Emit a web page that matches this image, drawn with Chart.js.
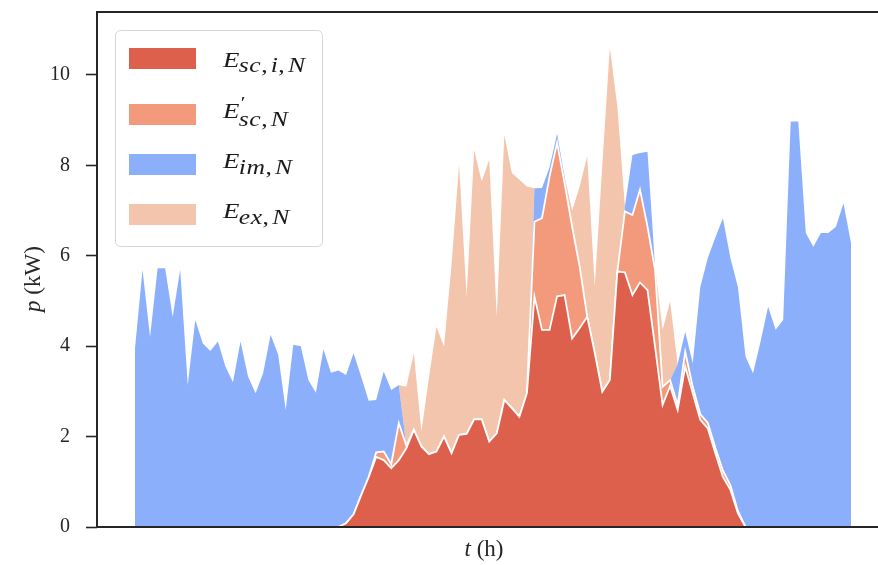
<!DOCTYPE html>
<html><head><meta charset="utf-8">
<script src="https://cdn.jsdelivr.net/npm/chart.js@4/dist/chart.umd.min.js"></script>
<style>html,body{margin:0;padding:0;background:#fff;overflow:hidden}</style>
</head><body>
<canvas id="c" width="878" height="565"></canvas>
<script>
// time steps (15-min intervals over a day)
const steps = Array.from({length: 96}, (_, i) => i);
// individual self-consumption E_sc,i,N (kW)
const selfConsIndiv = [0,0,0,0,0,0,0,0,0,0,0,0,0,0,0,0,0,0,0,0,0,0,0,0,0,0,0,0,
 0.08,0.28,0.70,1.10,1.55,1.48,1.30,1.48,1.74,2.15,1.78,1.61,1.67,2.00,1.63,2.04,2.06,2.38,2.38,1.89,2.07,2.81,2.63,2.44,2.96,
 5.10,4.36,4.36,5.10,5.13,4.17,4.40,4.65,3.85,2.99,3.25,5.65,5.63,5.13,5.41,5.24,3.99,2.70,3.12,2.59,3.55,2.96,2.37,2.18,1.63,1.11,0.82,0.30,
 0,0,0,0,0,0,0,0,0,0,0,0,0,0,0];
// collective self-consumption E'_sc,N (kW)
const selfConsColl = [0,0,0,0,0,0,0,0,0,0,0,0,0,0,0,0,0,0,0,0,0,0,0,0,0,0,0,0,0,0,0,0,
 0.10,0.19,0.09,0.82,0.06,0,0,0,0,0,0,0,0,0,0,0,0,0,0,0,0,
 1.65,2.47,3.39,3.40,2.47,2.47,1.36,0,0,0,0,0,1.35,1.77,2.05,1.40,1.70,0.40,0.13,0.11,0.33,0.14,0.13,0.12,0.12,0.14,0.10,0.05,
 0,0,0,0,0,0,0,0,0,0,0,0,0,0,0];
// import E_im,N (kW)
const importGrid = [3.95,5.69,4.20,5.72,5.72,4.65,5.69,3.14,4.58,4.06,3.89,4.10,3.55,3.20,4.10,3.33,2.96,3.40,4.25,3.81,2.59,4.03,4.00,3.25,2.97,3.93,3.41,3.46,
 3.28,3.56,2.63,1.69,1.16,1.77,1.64,0.84,0,0,0,0,0,0,0,0,0,0,0,0,0,0,0,0,0,
 0.74,0.67,0.20,0.20,0.15,0,0,0,0,0,0,0,0.11,1.33,0.81,1.66,0.07,0,0,0.90,0.44,0.52,2.80,3.65,4.65,5.58,5.03,4.95,
 3.77,3.40,4.10,4.87,4.36,4.58,8.97,8.97,6.50,6.20,6.50,6.50,6.64,7.16,6.28];
// export E_ex,N (kW)
const exportGrid = [0,0,0,0,0,0,0,0,0,0,0,0,0,0,0,0,0,0,0,0,0,0,0,0,0,0,0,0,0,0,0,0,0,0,0,0,
 1.30,1.69,0.33,1.69,2.76,1.99,4.17,5.97,3.04,5.96,5.26,6.23,2.58,5.86,5.20,5.24,4.57,
 0,0,0,0,0,0.36,1.77,3.55,1.47,5.01,7.35,3.65,0,0,0,0,0,1.26,1.74,
 0,0,0,0,0,0,0,0,0,0,0,0,0,0,0,0,0,0,0,0,0,0,0,0];
const yTicks = [0,2,4,6,8,10];
const legendLabels = [
  {main:'E', sup:'', sub:'sc,i,N', dy:5},
  {main:'E', sup:'\u2032', sub:'sc,N', dy:8},
  {main:'E', sup:'', sub:'im,N', dy:6},
  {main:'E', sup:'', sub:'ex,N', dy:6}
];
const colors = ['#dd604c','#f29a7b','#8caffc','#f3c5ac'];

const pts = arr => steps.map((x,i) => ({x, y: arr[i]}));

const SERIF = '"Liberation Serif", "DejaVu Serif", serif';
const INK = '#262626';

const decor = {
  id: 'decor',
  afterDatasetsDraw(chart) {
    const {ctx, chartArea: a} = chart;
    ctx.save();
    ctx.strokeStyle = INK; ctx.lineWidth = 2;
    ctx.beginPath();
    ctx.moveTo(a.left, a.bottom); ctx.lineTo(a.left, a.top); ctx.lineTo(a.right + 5, a.top);
    ctx.moveTo(a.left, a.bottom); ctx.lineTo(a.right + 5, a.bottom);
    ctx.stroke();
    ctx.fillStyle = INK; ctx.textBaseline = 'alphabetic';
    // x title
    const fs = 23;
    ctx.font = 'italic ' + fs + 'px ' + SERIF;
    const tW = ctx.measureText('t').width;
    ctx.font = fs + 'px ' + SERIF;
    const rW = ctx.measureText(' (h)').width;
    let x0 = 484 - (tW + rW) / 2;
    ctx.font = 'italic ' + fs + 'px ' + SERIF; ctx.fillText('t', x0, 556);
    ctx.font = fs + 'px ' + SERIF; ctx.fillText(' (h)', x0 + tW, 556);
    // y title
    ctx.save();
    ctx.translate(40, 279); ctx.rotate(-Math.PI/2);
    ctx.font = 'italic ' + fs + 'px ' + SERIF;
    const pW = ctx.measureText('p').width;
    ctx.font = fs + 'px ' + SERIF;
    const kW = ctx.measureText(' (kW)').width;
    let y0 = -(pW + kW) / 2;
    ctx.font = 'italic ' + fs + 'px ' + SERIF; ctx.fillText('p', y0, 0);
    ctx.font = fs + 'px ' + SERIF; ctx.fillText(' (kW)', y0 + pW, 0);
    ctx.restore();
    // legend
    const bx = 115.5, by = 30.5, bw = 207, bh = 216, r = 5;
    ctx.beginPath();
    ctx.moveTo(bx + r, by); ctx.lineTo(bx + bw - r, by); ctx.arcTo(bx + bw, by, bx + bw, by + r, r);
    ctx.lineTo(bx + bw, by + bh - r); ctx.arcTo(bx + bw, by + bh, bx + bw - r, by + bh, r);
    ctx.lineTo(bx + r, by + bh); ctx.arcTo(bx, by + bh, bx, by + bh - r, r);
    ctx.lineTo(bx, by + r); ctx.arcTo(bx, by, bx + r, by, r); ctx.closePath();
    ctx.fillStyle = 'rgba(255,255,255,0.8)'; ctx.fill();
    ctx.strokeStyle = '#d6d6d6'; ctx.lineWidth = 1; ctx.stroke();
    const swTop = [48, 104, 154, 204];
    const base = [67, 118, 168, 218];
    const SX = 1.28;
    legendLabels.forEach((lab, k) => {
      ctx.fillStyle = colors[k];
      ctx.fillRect(129, swTop[k], 67, 21);
      ctx.fillStyle = '#1a1a1a';
      ctx.save();
      ctx.translate(223, base[k]);
      ctx.scale(SX, 1);
      ctx.font = 'italic 21px ' + SERIF;
      ctx.fillText(lab.main, 0, 0);
      const ew = ctx.measureText(lab.main).width;
      if (lab.sup) { ctx.font = '17px ' + SERIF; ctx.fillText(lab.sup, ew + 1, -10); }
      let sx = ew - 0.5;
      for (const ch of lab.sub) {
        ctx.font = (ch === ',' ? '' : 'italic ') + '20px ' + SERIF;
        ctx.fillText(ch, sx, lab.dy);
        sx += ctx.measureText(ch).width + (ch === ',' ? 2.5 : 0.4);
      }
      ctx.restore();
    });
    ctx.restore();
  }
};

new Chart(document.getElementById('c'), {
  type: 'line',
  data: {
    datasets: [
      {label: 'E_sc,i,N', data: pts(selfConsIndiv), backgroundColor: colors[0], fill: 'origin', borderWidth: 1.8, borderColor: '#ffffff'},
      {label: "E'_sc,N", data: pts(selfConsColl), backgroundColor: colors[1], fill: '-1', borderWidth: 1.8, borderColor: '#ffffff'},
      {label: 'E_im,N', data: pts(importGrid), backgroundColor: colors[2], fill: '-1', borderWidth: 0, borderColor: 'rgba(0,0,0,0)'},
      {label: 'E_ex,N', data: pts(exportGrid), backgroundColor: colors[3], fill: '-1', borderWidth: 0, borderColor: 'rgba(0,0,0,0)'}
    ]
  },
  options: {
    responsive: false, animation: false, devicePixelRatio: 1,
    layout: {padding: {top: 12, right: 0, bottom: 38, left: 0}},
    elements: {point: {radius: 0, hoverRadius: 0}, line: {tension: 0}},
    plugins: {legend: {display: false}, tooltip: {enabled: false}, filler: {propagate: false}},
    scales: {
      x: {type: 'linear', display: false, min: -5.04, max: 98.58},
      y: {
        stacked: true, min: 0, max: 11.39,
        afterBuildTicks: s => { s.ticks = yTicks.map(v => ({value: v})); },
        afterFit: s => { s.width = 97; s.paddingTop = 0; s.paddingBottom = 0; },
        ticks: {font: {family: SERIF, size: 20}, color: INK, padding: 16},
        grid: {drawOnChartArea: false, drawTicks: true, tickLength: 11, tickWidth: 1.6, tickColor: INK},
        border: {display: false}
      }
    }
  },
  plugins: [decor]
});
</script>
</body></html>
